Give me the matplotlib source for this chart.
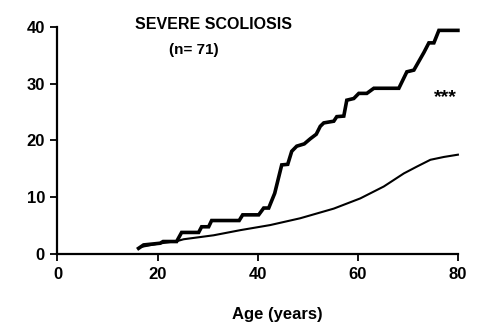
import matplotlib
matplotlib.use("Agg")
import matplotlib.pyplot as plt

plt.rcParams["font.family"] = ["Liberation Sans", "DejaVu Sans"]

# observed cumulative incidence (stepped curve)
obs_age = [16.2, 17.2, 20.5, 21.1, 23.8, 24.8, 28.2, 28.8, 30.2, 30.8, 36.3,
           37.0, 40.2, 41.2, 42.2, 43.4, 44.8, 46.0, 46.8, 47.8, 49.3, 50.5,
           51.7, 52.5, 53.2, 55.2, 55.8, 57.2, 57.8, 59.2, 60.2, 61.8, 63.2,
           68.2, 69.8, 71.2, 73.2, 74.2, 75.2, 76.2, 80.0]
obs_val = [1.0, 1.6, 1.9, 2.2, 2.2, 3.8, 3.8, 4.8, 4.8, 5.9, 5.9,
           6.9, 6.9, 8.1, 8.1, 10.7, 15.7, 15.8, 18.1, 19.0, 19.4, 20.3,
           21.1, 22.5, 23.1, 23.4, 24.2, 24.3, 27.1, 27.4, 28.3, 28.3, 29.2,
           29.2, 32.1, 32.4, 35.5, 37.2, 37.2, 39.4, 39.4]

# expected curve (smooth)
exp_age = [17.0, 20.0, 24.0, 25.2, 31.2, 36.5, 38.5, 42.5, 48.5, 55.2, 60.5,
           65.2, 69.2, 71.8, 74.5, 77.2, 80.0]
exp_val = [1.3, 1.8, 2.3, 2.6, 3.3, 4.2, 4.5, 5.1, 6.3, 8.0, 9.8,
           11.9, 14.2, 15.4, 16.6, 17.1, 17.5]

x_ticks = [0, 20, 40, 60, 80]
y_ticks = [0, 10, 20, 30, 40]

fig = plt.figure(figsize=(4.81, 3.33), dpi=100)
ax = fig.add_axes([0.1195, 0.2372, 0.8325, 0.6818])

ax.plot(obs_age, obs_val, color="black", lw=2.6, solid_joinstyle="miter", clip_on=False)
ax.plot(exp_age, exp_val, color="black", lw=1.5, clip_on=False)

ax.set_xlim(0, 80)
ax.set_ylim(0, 40)
ax.set_xticks(x_ticks)
ax.set_yticks(y_ticks)
for s in ["top", "right"]:
    ax.spines[s].set_visible(False)
for s in ["left", "bottom"]:
    ax.spines[s].set_linewidth(1.6)
ax.tick_params(length=5, width=1.3, labelsize=12, pad=4)
for lab in ax.get_xticklabels() + ax.get_yticklabels():
    lab.set_fontweight("bold")

ax.set_xlabel("Age (years)", fontsize=12, fontweight="bold")
ax.xaxis.set_label_coords(0.548, -0.235)

ax.text(0.39, 1.01, "SEVERE SCOLIOSIS", transform=ax.transAxes, ha="center",
        va="center", fontsize=11.5, fontweight="bold")
ax.text(0.341, 0.90, "(n= 71)", transform=ax.transAxes, ha="center",
        va="center", fontsize=11, fontweight="semibold")
ax.text(77.5, 27.6, "***", ha="center", va="center", fontsize=14, fontweight="bold")

fig.savefig("out.png", dpi=100)
